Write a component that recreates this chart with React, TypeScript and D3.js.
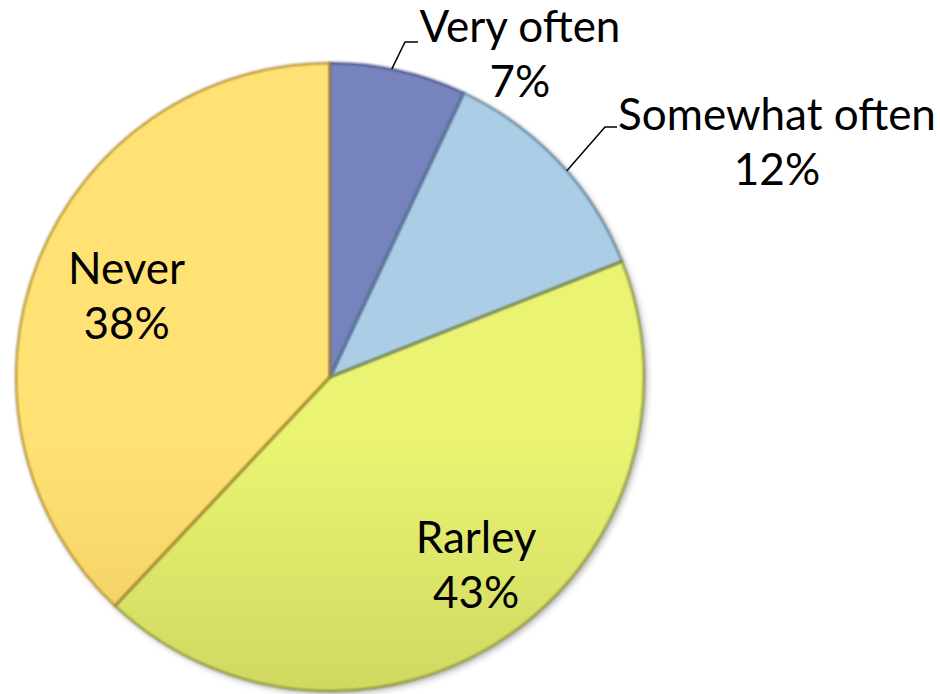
import React from "react";
import * as d3 from "d3";

const categories = ["Very often", "Somewhat often", "Rarley", "Never"];
const values = [7, 12, 43, 38];
const percentLabels = ["7%", "12%", "43%", "38%"];

const W = 940;
const H = 694;
const CX = 330;
const CY = 377;
const R = 314;

const topColors = ["#7783bd", "#abcde5", "#eaf472", "#ffe273"];
const bottomColors = ["#525f96", "#6a8aa3", "#a8b046", "#d8ad48"];
const edgeColors = ["#46528a", "#5f7f98", "#868d34", "#b08c32"];

// label placement: inside labels via centroid factor (+ small nudge), outside labels with leader lines
const insideFactor = [0, 0, 0.76, 0.69];
const insideNudge: [number, number][] = [[0, 0], [0, 0], [12, -9], [-2, -1]];
const outsideLabel: Record<number, { x: number; y: number; elbow: [number, number]; end: [number, number] }> = {
  0: { x: 520, y: 42, elbow: [405, 42], end: [418, 42] },
  1: { x: 777, y: 130, elbow: [605, 127], end: [617, 127] },
};

export default function App() {
  const pie = d3
    .pie<number>()
    .sort(null)
    .value((d) => d)
    .startAngle(0)
    .endAngle(2 * Math.PI);
  const arcs = pie(values);
  const arc = d3.arc<d3.PieArcDatum<number>>().innerRadius(0).outerRadius(R);
  const fontFamily = "'Lato', 'Open Sans', sans-serif";
  const fs = 44;
  const lh = 55;

  return (
    <svg
      width={W}
      height={H}
      style={{ position: "absolute", left: 0, top: 0, background: "#fff" }}
      fontFamily={fontFamily}
    >
      <defs>
        {categories.map((c, i) => (
          <linearGradient
            key={c}
            id={`g${i}`}
            gradientUnits="userSpaceOnUse"
            x1={0}
            y1={CY - R}
            x2={0}
            y2={CY + R}
          >
            <stop offset="0%" stopColor={topColors[i]} />
            <stop offset="100%" stopColor={bottomColors[i]} />
          </linearGradient>
        ))}
        <filter id="shadow" x="-10%" y="-10%" width="120%" height="120%">
          <feDropShadow dx="3" dy="3" stdDeviation="3" floodColor="#000" floodOpacity="0.3" />
        </filter>
        <filter id="soft" x="-5%" y="-5%" width="110%" height="110%">
          <feGaussianBlur stdDeviation="0.8" />
        </filter>
      </defs>
      <g transform={`translate(${CX},${CY})`}>
        <g filter="url(#shadow)">
          {arcs.map((a, i) => (
            <path key={i} d={arc(a) || ""} fill={`url(#g${i})`} />
          ))}
        </g>
        {arcs.map((a, i) => (
          <path
            key={"e" + i}
            d={arc(a) || ""}
            fill="none"
            stroke={edgeColors[i]}
            strokeWidth={2}
            filter="url(#soft)"
          />
        ))}
      </g>
      {arcs.map((a, i) => {
        const ol = outsideLabel[i];
        if (ol) {
          const ang =
            i === 0
              ? a.startAngle + (a.endAngle - a.startAngle) * 0.45
              : a.startAngle + (a.endAngle - a.startAngle) * 0.55;
          const sx = CX + R * Math.sin(ang);
          const sy = CY - R * Math.cos(ang);
          return (
            <g key={"l" + i}>
              <polyline
                points={`${sx},${sy} ${ol.elbow[0]},${ol.elbow[1]} ${ol.end[0]},${ol.end[1]}`}
                fill="none"
                stroke="#000"
                strokeWidth={1.5}
              />
              <text x={ol.x} y={ol.y} textAnchor="middle" fontSize={fs} fill="#000">
                {categories[i]}
              </text>
              <text x={ol.x} y={ol.y + lh} textAnchor="middle" fontSize={fs} fill="#000">
                {percentLabels[i]}
              </text>
            </g>
          );
        }
        const mid = (a.startAngle + a.endAngle) / 2;
        const r = R * insideFactor[i];
        const x = CX + r * Math.sin(mid) + insideNudge[i][0];
        const y = CY - r * Math.cos(mid) + insideNudge[i][1];
        return (
          <g key={"l" + i}>
            <text x={x} y={y - 12} textAnchor="middle" fontSize={fs} fill="#000">
              {categories[i]}
            </text>
            <text x={x} y={y - 12 + lh} textAnchor="middle" fontSize={fs} fill="#000">
              {percentLabels[i]}
            </text>
          </g>
        );
      })}
    </svg>
  );
}
